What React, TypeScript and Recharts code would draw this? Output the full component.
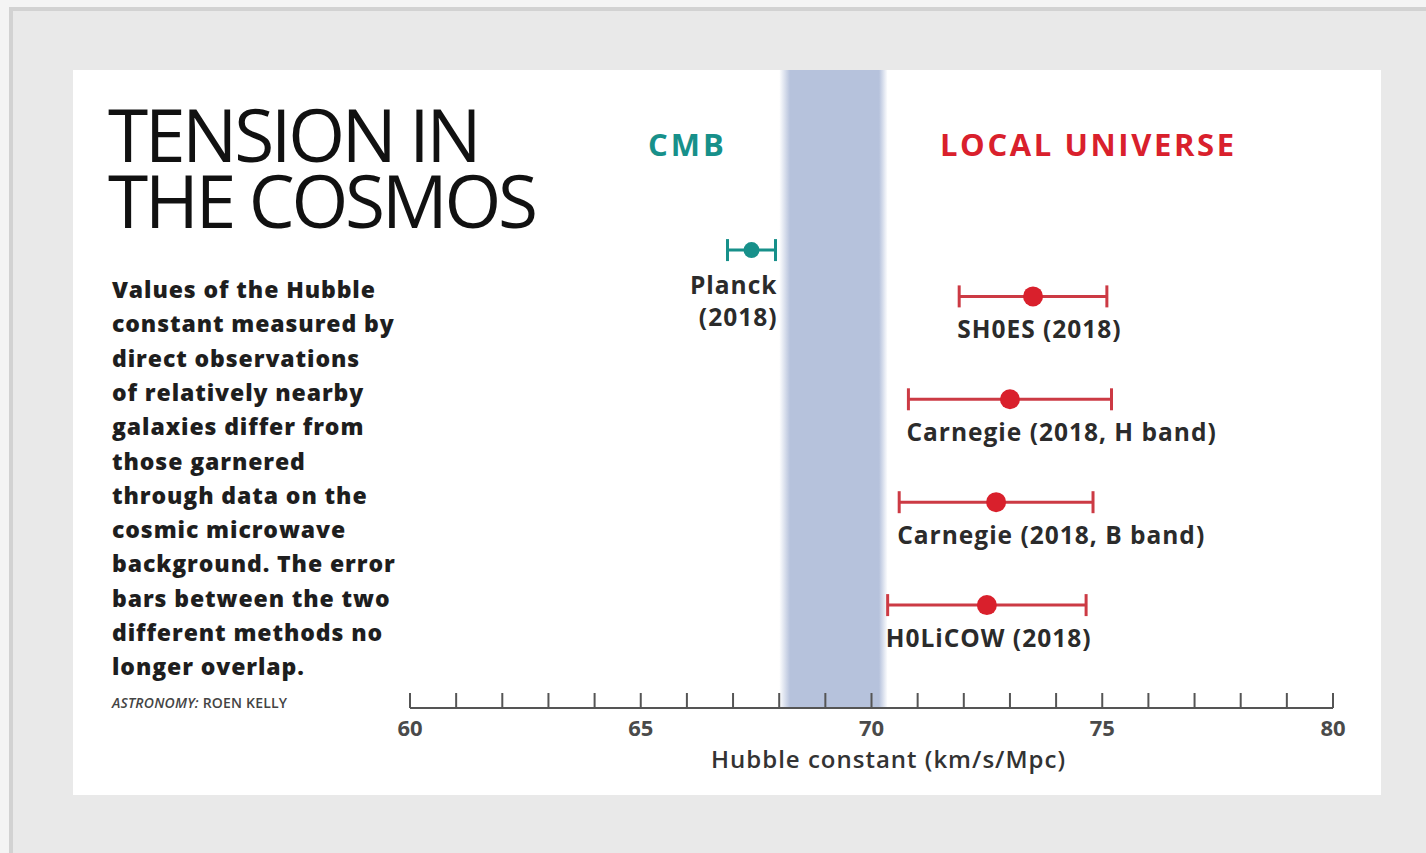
import React from 'react';
import { ScatterChart, Scatter, XAxis, YAxis, ErrorBar, ReferenceArea } from 'recharts';

const names = ['Planck (2018)', 'SH0ES (2018)', 'Carnegie (2018, H band)', 'Carnegie (2018, B band)', 'H0LiCOW (2018)'];
const groups = ['cmb', 'local', 'local', 'local', 'local'];
const hubble = [67.4, 73.5, 73.0, 72.7, 72.5];
const errors = [0.52, 1.6, 2.2, 2.1, 2.15];
const rows = [4.45, 4, 3, 2, 1];

const xTicks = [60, 61, 62, 63, 64, 65, 66, 67, 68, 69, 70, 71, 72, 73, 74, 75, 76, 77, 78, 79, 80];
const majorTicks = [60, 65, 70, 75, 80];
const bandRange = [68.0, 70.35];

const titleLines = ['TENSION IN', 'THE COSMOS'];
const paragraphLines = [
  'Values of the Hubble',
  'constant measured by',
  'direct observations',
  'of relatively nearby',
  'galaxies differ from',
  'those garnered',
  'through data on the',
  'cosmic microwave',
  'background. The error',
  'bars between the two',
  'different methods no',
  'longer overlap.',
];

const FONT = '"Open Sans", "Noto Sans", sans-serif';
const TEAL = '#17908a';
const RED = '#d9202c';
const RED_BAR = '#cc3a44';

const points = names.map((name, i) => ({ x: hubble[i], y: rows[i], err: errors[i], name, group: groups[i] }));
const cmbPoints = points.filter((p) => p.group === 'cmb');
const localPoints = points.filter((p) => p.group === 'local');
// anchor labels at the end of each error bar
const labelPoints = points.map((p) => ({ ...p, x: p.group === 'cmb' ? p.x + p.err : p.x - p.err }));

const AxisTick = (props: any) => {
  const { x, y, payload } = props;
  const major = majorTicks.includes(payload.value);
  return (
    <g>
      <line x1={x} x2={x} y1={y} y2={y - 15} stroke="#555" strokeWidth={2} />
      {major && (
        <text x={x} y={y + 28} textAnchor="middle" fontFamily={FONT} fontSize={22} fontWeight={700} fill="#4a4a4a">
          {payload.value}
        </text>
      )}
    </g>
  );
};

const PointLabel = (props: any) => {
  const { cx, cy, payload } = props;
  const common = { fontFamily: FONT, fontSize: 24.5, fontWeight: 700, fill: '#2b2b2b', letterSpacing: 1 };
  if (payload.group === 'cmb') {
    const [a, b] = payload.name.split(' ');
    return (
      <text textAnchor="end" {...common}>
        <tspan x={cx + 2} y={cy + 44}>{a}</tspan>
        <tspan x={cx + 2} y={cy + 76}>{b}</tspan>
      </text>
    );
  }
  return (
    <text x={cx - 2} y={cy + 42} {...common}>
      {payload.name}
    </text>
  );
};

export default function App() {
  return (
    <div style={{ position: 'absolute', left: 0, top: 0, width: 1426, height: 853, overflow: 'hidden', background: '#f4f4f4' }}>
      <div style={{ position: 'absolute', left: 9, top: 7, width: 1440, height: 880, background: '#e9e9e9', border: '4px solid #d2d2d2' }} />
      <div style={{ position: 'absolute', left: 73, top: 70, width: 1308, height: 725, background: '#ffffff' }} />

      <svg width={1426} height={853} style={{ position: 'absolute', left: 0, top: 0 }}>
        <text fontFamily={FONT} fontSize={73} fontWeight={400} fill="#111" letterSpacing={-3.2}>
          {titleLines.map((t, i) => (
            <tspan key={t} x={108} y={162 + i * 66}>
              {t}
            </tspan>
          ))}
        </text>
        {paragraphLines.map((t, i) => (
          <text key={t} x={112} y={298 + i * 34.3} fontFamily={FONT} fontSize={23} fontWeight={800} fill="#1e1e1e" letterSpacing={0.9}>
            {t}
          </text>
        ))}
        <text x={112} y={708} fontFamily={FONT} fontSize={14} fontWeight={600} fill="#444" letterSpacing={0.2}>
          <tspan fontStyle="italic">ASTRONOMY:</tspan>
          <tspan> ROEN KELLY</tspan>
        </text>
        <text x={648} y={156} fontFamily={FONT} fontSize={31} fontWeight={700} fill={TEAL} letterSpacing={3}>
          CMB
        </text>
        <text x={940} y={156} fontFamily={FONT} fontSize={31} fontWeight={700} fill={RED} letterSpacing={2.6}>
          LOCAL UNIVERSE
        </text>
      </svg>

      <div style={{ position: 'absolute', left: 0, top: 0 }}>
        <ScatterChart width={1426} height={853} margin={{ top: 70, right: 93, left: 410, bottom: 85 }}>
          <defs>
            <linearGradient id="bandFill" x1="0" x2="1" y1="0" y2="0">
              <stop offset="0%" stopColor="#b6c2dc" stopOpacity={0} />
              <stop offset="10%" stopColor="#b6c2dc" stopOpacity={1} />
              <stop offset="92%" stopColor="#b6c2dc" stopOpacity={1} />
              <stop offset="100%" stopColor="#b6c2dc" stopOpacity={0} />
            </linearGradient>
          </defs>
          <XAxis
            type="number"
            dataKey="x"
            domain={[60, 80]}
            ticks={xTicks}
            interval={0}
            height={60}
            tickSize={0}
            tickMargin={0}
            tick={<AxisTick />}
            axisLine={{ stroke: '#555', strokeWidth: 2 }}
            label={{
              value: 'Hubble constant (km/s/Mpc)',
              position: 'insideBottom',
              offset: 0,
              dx: 17,
              style: { fontFamily: FONT, fontSize: 24, fontWeight: 600, fill: '#333', letterSpacing: 1 },
            }}
          />
          <YAxis type="number" dataKey="y" domain={[0, 6.2]} hide width={0} />
          <ReferenceArea x1={bandRange[0]} x2={bandRange[1]} y1={0} y2={6.2} fill="url(#bandFill)" fillOpacity={1} stroke="none" ifOverflow="visible" />
          <Scatter
            data={cmbPoints}
            isAnimationActive={false}
            shape={(p: any) => <circle cx={p.cx} cy={p.cy} r={8} fill={TEAL} />}
          >
            <ErrorBar dataKey="err" direction="x" width={11} stroke={TEAL} strokeWidth={3} />
          </Scatter>
          <Scatter
            data={localPoints}
            isAnimationActive={false}
            shape={(p: any) => <circle cx={p.cx} cy={p.cy} r={10} fill={RED} />}
          >
            <ErrorBar dataKey="err" direction="x" width={11} stroke={RED_BAR} strokeWidth={3} />
          </Scatter>
          <Scatter data={labelPoints} isAnimationActive={false} shape={<PointLabel />} />
        </ScatterChart>
      </div>
    </div>
  );
}
